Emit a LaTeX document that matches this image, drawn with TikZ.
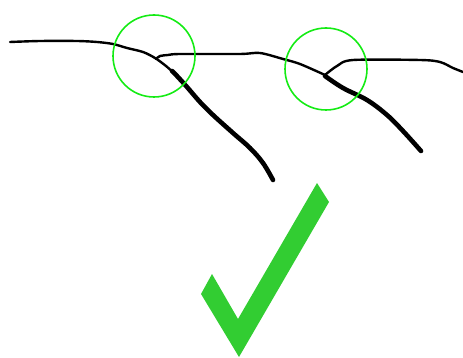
\documentclass[tikz,border=0pt]{standalone}
\definecolor{ringgreen}{RGB}{20,235,20}
\definecolor{tickgreen}{RGB}{50,205,50}
\tikzset{
  thinstroke/.style={line width=2.4pt, line cap=round, line join=round, black},
  thickstroke/.style={line width=4.6pt, line cap=round, line join=round, black},
  ring/.style={draw=ringgreen, line width=1.6pt},
}
\begin{document}
\begin{tikzpicture}[x=1pt,y=-1pt]
\useasboundingbox (0,0) rectangle (463,358);
% left drawing
\draw[thinstroke] plot[smooth, tension=0.5] coordinates {(10,42) (40,41) (77,41) (97,42) (113,44) (127,48) (143,52) (155,58) (166,66) (177,76) (187,87)};
\draw[thickstroke] plot[smooth, tension=0.6] coordinates {(172,71) (177,76) (187,87) (200,102) (213,115) (233,133) (250,148) (263,163) (273,180)};
\draw[thinstroke] plot[smooth, tension=0.5] coordinates {(156,59) (160,56) (168,55) (180,54) (240,54) (260,53) (283,59) (300,64) (325,75)};
\draw[ring] (154,56) circle (41);
% right drawing
\draw[thinstroke] plot[smooth, tension=0.5] coordinates {(325,75) (337,66) (353,60) (420,60) (440,62) (453,68) (463,72)};
\draw[thickstroke] plot[smooth, tension=0.6] coordinates {(325,76) (343,88) (367,100) (387,115) (403,131) (421,151)};
\draw[ring] (326,69) circle (41);
% check mark
\fill[tickgreen] (201,294) -- (212,274) -- (238,319) -- (317,183) -- (329,202) -- (239,357) -- cycle;
\end{tikzpicture}
\end{document}
